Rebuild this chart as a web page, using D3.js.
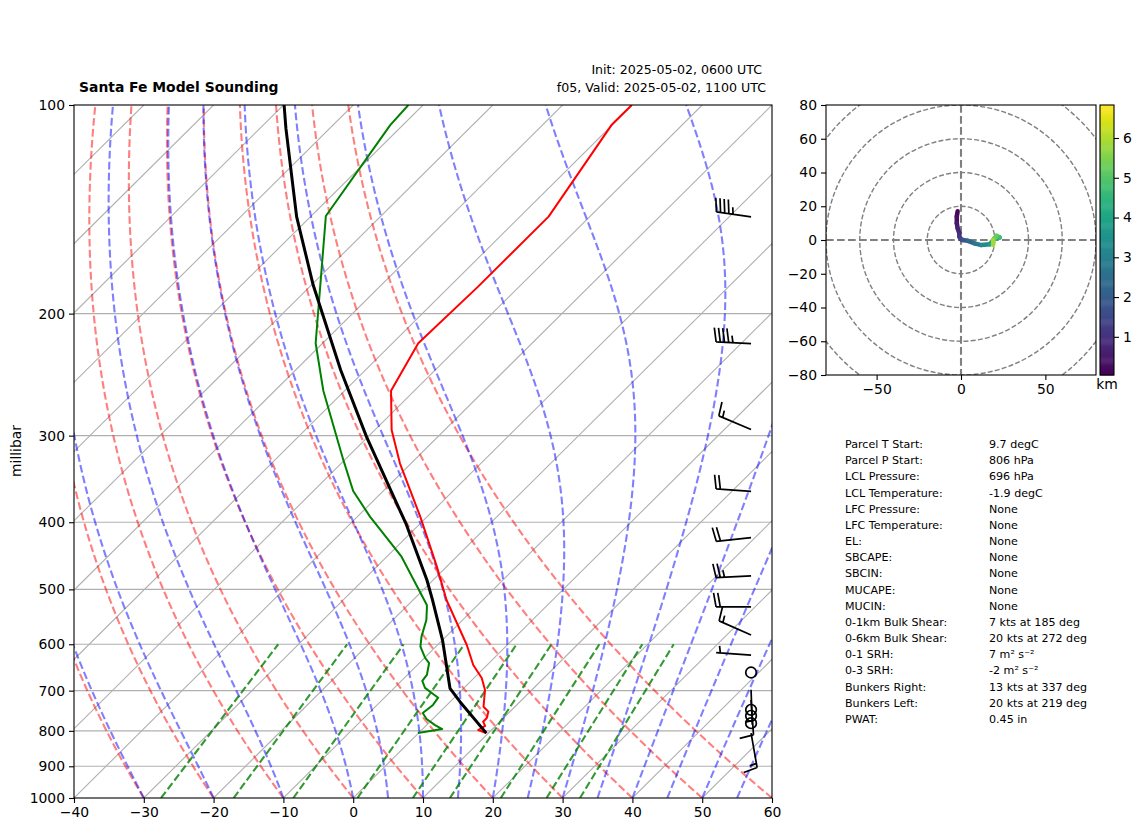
<!DOCTYPE html>
<html>
<head>
<meta charset="utf-8">
<script src="https://cdn.jsdelivr.net/npm/d3@7"></script>
<style>
    body { margin: 0; background: #fff; }
    text { font-family: "DejaVu Sans", sans-serif; fill: #000; }
</style>
</head>
<body>
<svg id="chart" width="1142" height="832"></svg>
<script>
// Sounding profiles (hPa, degC)
const tempPressure = [100, 106.9, 144.9, 183, 220.7, 258.4, 294.4, 328.9, 392.6, 463.6, 518, 601.5, 642.7, 671.2, 698.5, 738.4, 750.5, 766.7, 776, 787, 797.8, 806];
const tempValues = [-60.1, -60.1, -55.9, -55.9, -56.3, -53.35, -47.6, -41.6, -31.0, -21.4, -15.2, -5.8, -2.0, 1.1, 3.3, 5.5, 6.9, 7.6, 7.6, 8.5, 8.1, 9.7];

const dewPressure = [100, 106.9, 144.6, 220.7, 258.4, 325.2, 360.6, 392.6, 448.5, 526.6, 532, 553.6, 585, 604.9, 628, 638.6, 664.4, 677.7, 693.6, 705.4, 716.6, 734, 754, 769, 784.8, 795.2, 806];
const dewValues = [-92.1, -91.8, -87.9, -71.0, -63.05, -50.2, -44.3, -38.2, -27.9, -17.3, -16.85, -15.2, -13.5, -12.2, -9.9, -8.6, -7.2, -7.0, -5.6, -3.9, -2.3, -2.0, -2.3, -0.9, 1.2, 2.8, -0.1];

const parcelPressure = [100, 108, 144.9, 181.9, 241.2, 301.2, 371.5, 401.4, 484.6, 518, 591.6, 694.6, 726.2, 806];
const parcelValues = [-109.9, -106.3, -92.0, -79.75, -63.56, -50.2, -37.0, -32.1, -20.9, -17.2, -10.0, -1.96, 1.4, 9.7];

// Wind barbs (hPa, kts, degrees)
const barbPressure = [145, 221, 294, 361, 421, 478, 530, 582, 622, 659, 698, 722, 746, 761, 780, 806];
const barbSpeed = [45, 45, 15, 20, 20, 25, 20, 15, 5, 0, 5, 10, 0, 0, 0, 15];
const barbDirection = [278, 273, 293, 274, 264, 267, 270, 294, 274, 0, 178, 176, 0, 0, 0, 170];

// Hodograph (kts, kts, km)
const hodoU = [-2, -2.5, -2.5, -2, -1, -1, 0, 1, 4, 8, 12, 17, 20, 23, 21, 19, 19];
const hodoV = [17, 14, 10, 7, 4, 2, 0.5, 0, -0.5, -2, -3, -2.5, 1, 1.5, 2.5, 0, -3];
const hodoHeight = [0.04, 0.2, 0.4, 0.6, 0.8, 1, 1.3, 1.6, 2, 2.5, 3, 3.5, 4, 4.5, 5, 5.5, 6.2];

// Background lines: starting temperatures at 1000 hPa
const isothermTemps = d3.range(-130, 61, 10);
const isobars = [200, 300, 400, 500, 600, 700, 800, 900];
const dryStarts = d3.range(-40, 61, 10);
const moistStarts = [-40, -30, -20, -10, 0, 5, 10, 15, 20, 25, 30, 35, 40, 45, 50, 55, 60];
const mixingRatios = [0.0004, 0.001, 0.002, 0.004, 0.007, 0.01, 0.016, 0.024, 0.032];

const pressureTicks = [100, 200, 300, 400, 500, 600, 700, 800, 900, 1000];
const tempTicks = d3.range(-40, 61, 10);
const hodoXTicks = [-50, 0, 50];
const hodoYTicks = d3.range(-80, 81, 20);
const hodoRings = [20, 40, 60, 80, 100];
const colorbarTicks = [1, 2, 3, 4, 5, 6];

const statLabels = ["Parcel T Start:", "Parcel P Start:", "LCL Pressure:", "LCL Temperature:", "LFC Pressure:", "LFC Temperature:", "EL:", "SBCAPE:", "SBCIN:", "MUCAPE:", "MUCIN:", "0-1km Bulk Shear:", "0-6km Bulk Shear:", "0-1 SRH:", "0-3 SRH:", "Bunkers Right:", "Bunkers Left:", "PWAT:"];
const statValues = ["9.7 degC", "806 hPa", "696 hPa", "-1.9 degC", "None", "None", "None", "None", "None", "None", "None", "7 kts at 185 deg", "20 kts at 272 deg", "7 m² s⁻²", "-2 m² s⁻²", "13 kts at 337 deg", "20 kts at 219 deg", "0.45 in"];

const svg = d3.select("#chart");
const fontSize = 13.9;

const skew = { left: 74, right: 772, top: 105, bottom: 798 };
const x = d3.scaleLinear().domain([-40, 60]).range([skew.left, skew.right]);
const y = d3.scaleLog().domain([1000, 100]).range([skew.bottom, skew.top]);

// 45 degree skew in axes coordinates: one decade of pressure moves 100 degC
const skewX = (t, p) => x(t + 100 * Math.log10(1000 / p));

svg.append("clipPath").attr("id", "skewClip").append("rect")
    .attr("x", skew.left).attr("y", skew.top)
    .attr("width", skew.right - skew.left).attr("height", skew.bottom - skew.top);

const plot = svg.append("g").attr("clip-path", "url(#skewClip)");
const skewLine = d3.line().x(d => skewX(d[1], d[0])).y(d => y(d[0]));

// Gridlines
plot.selectAll(".isotherm").data(isothermTemps).enter().append("path")
    .attr("d", t => skewLine([[1000, t], [100, t]]))
    .attr("fill", "none").attr("stroke", "#b0b0b0").attr("stroke-width", 1.1);
plot.selectAll(".isobar").data(isobars).enter().append("line")
    .attr("x1", skew.left).attr("x2", skew.right)
    .attr("y1", d => y(d)).attr("y2", d => y(d))
    .attr("stroke", "#b0b0b0").attr("stroke-width", 1.1);

// Dry adiabats, moist adiabats, mixing ratio lines
const adiabatPressure = d3.range(0, 61).map(i => 1000 * Math.pow(10, -i / 60));

function dryAdiabat(t0) {
    return adiabatPressure.map(p => [p, (t0 + 273.15) * Math.pow(p / 1000, 0.286) - 273.15]);
}

function moistSlope(p, tk) {
    const tc = tk - 273.15;
    const es = 6.112 * Math.exp(17.67 * tc / (tc + 243.5));
    const rs = 0.622 * es / (p - es);
    const lv = 2.501e6;
    return (287 * tk + lv * rs) / (1005 + lv * lv * rs * 0.622 / (287 * tk * tk)) / p;
}

function moistAdiabat(t0) {
    let tk = t0 + 273.15;
    const out = [[1000, t0]];
    for (let i = 1; i < adiabatPressure.length; i++) {
        const p0 = adiabatPressure[i - 1];
        const h = adiabatPressure[i] - p0;
        const k1 = moistSlope(p0, tk);
        const k2 = moistSlope(p0 + h / 2, tk + h / 2 * k1);
        const k3 = moistSlope(p0 + h / 2, tk + h / 2 * k2);
        const k4 = moistSlope(p0 + h, tk + h * k3);
        tk += h / 6 * (k1 + 2 * k2 + 2 * k3 + k4);
        out.push([adiabatPressure[i], tk - 273.15]);
    }
    return out;
}

function mixingLine(w) {
    return [1000, 600].map(p => {
        const l = Math.log(w * p / (0.622 + w) / 6.112);
        return [p, 243.5 * l / (17.67 - l)];
    });
}

plot.selectAll(".dry").data(dryStarts).enter().append("path")
    .attr("d", d => skewLine(dryAdiabat(d)))
    .attr("fill", "none").attr("stroke", "red").attr("stroke-opacity", 0.5)
    .attr("stroke-width", 2.1).attr("stroke-dasharray", "7.7,3.3");
plot.selectAll(".moist").data(moistStarts).enter().append("path")
    .attr("d", d => skewLine(moistAdiabat(d)))
    .attr("fill", "none").attr("stroke", "blue").attr("stroke-opacity", 0.5)
    .attr("stroke-width", 2.1).attr("stroke-dasharray", "7.7,3.3");
plot.selectAll(".mixing").data(mixingRatios).enter().append("path")
    .attr("d", d => skewLine(mixingLine(d)))
    .attr("fill", "none").attr("stroke", "green").attr("stroke-opacity", 0.8)
    .attr("stroke-width", 2.1).attr("stroke-dasharray", "7.7,3.3");

// Profiles
const profiles = [
    { p: tempPressure, t: tempValues, color: "red", width: 2 },
    { p: dewPressure, t: dewValues, color: "green", width: 2 },
    { p: parcelPressure, t: parcelValues, color: "black", width: 3 }
];
plot.selectAll(".profile").data(profiles).enter().append("path")
    .attr("d", d => skewLine(d.p.map((p, i) => [p, d.t[i]])))
    .attr("fill", "none").attr("stroke", d => d.color).attr("stroke-width", d => d.width)
    .attr("stroke-linejoin", "round");

// Wind barbs, at 97% of the axes width
const barbX = skew.left + 0.97 * (skew.right - skew.left);
const barbLength = 35;

function barbPath(p, speed, dir) {
    const y0 = y(p);
    const rad = dir * Math.PI / 180;
    const hx = Math.sin(rad), hy = -Math.cos(rad);
    const rx = -hy, ry = hx;
    const tipX = barbX + hx * barbLength, tipY = y0 + hy * barbLength;
    let path = `M${barbX},${y0}L${tipX},${tipY}`;
    const rounded = Math.round(speed / 5) * 5;
    const full = Math.floor(rounded / 10);
    const half = rounded % 10 === 5;
    const feather = (s, height) => {
        const px = tipX - hx * s, py = tipY - hy * s;
        path += `M${px},${py}L${px + rx * height + hx * height * 0.18},${py + ry * height + hy * height * 0.18}`;
    };
    let s = 0;
    for (let i = 0; i < full; i++) {
        feather(s, 14);
        s += 4.2;
    }
    if (half) {
        if (full === 0) s += 4.2;
        feather(s, 7);
    }
    return path;
}

const barbs = barbPressure.map((p, i) => ({ p, speed: barbSpeed[i], dir: barbDirection[i] }));
plot.selectAll(".barb").data(barbs.filter(d => d.speed >= 2.5)).enter().append("path")
    .attr("d", d => barbPath(d.p, d.speed, d.dir))
    .attr("fill", "none").attr("stroke", "black").attr("stroke-width", 1.7);
plot.selectAll(".calm").data(barbs.filter(d => d.speed < 2.5)).enter().append("circle")
    .attr("cx", barbX).attr("cy", d => y(d.p)).attr("r", 5.3)
    .attr("fill", "none").attr("stroke", "black").attr("stroke-width", 1.7);

// Skew-T frame and axes
svg.append("rect")
    .attr("x", skew.left).attr("y", skew.top)
    .attr("width", skew.right - skew.left).attr("height", skew.bottom - skew.top)
    .attr("fill", "none").attr("stroke", "black").attr("stroke-width", 1.1);

function styleAxis(g) {
    g.select(".domain").remove();
    g.selectAll("text").style("font-size", fontSize + "px").style("font-family", '"DejaVu Sans", sans-serif');
    g.selectAll("line").attr("stroke", "black").attr("stroke-width", 1.1);
}

svg.append("g").attr("transform", `translate(0,${skew.bottom})`)
    .call(d3.axisBottom(x).tickValues(tempTicks).tickSize(5).tickPadding(4))
    .call(styleAxis);
svg.append("g").attr("transform", `translate(${skew.left},0)`)
    .call(d3.axisLeft(y).tickValues(pressureTicks).tickFormat(d3.format("d")).tickSize(5).tickPadding(4))
    .call(styleAxis);

svg.append("text").attr("transform", "translate(21,451) rotate(-90)")
    .attr("text-anchor", "middle").style("font-size", fontSize + "px").text("millibar");

// Titles
svg.append("text").attr("x", 79).attr("y", 92).style("font-size", fontSize + "px")
    .style("font-weight", "bold").text("Santa Fe Model Sounding");
svg.append("text").attr("x", 762).attr("y", 74).attr("text-anchor", "end")
    .style("font-size", "12.6px").text("Init: 2025-05-02, 0600 UTC");
svg.append("text").attr("x", 766).attr("y", 92).attr("text-anchor", "end")
    .style("font-size", "12.6px").text("f05, Valid: 2025-05-02, 1100 UTC");

// Hodograph
const hodo = { left: 826, right: 1096, top: 105, bottom: 375 };
const hx = d3.scaleLinear().domain([-80, 80]).range([hodo.left, hodo.right]);
const hy = d3.scaleLinear().domain([-80, 80]).range([hodo.bottom, hodo.top]);
const color = d3.scaleSequential(d3.interpolateViridis).domain([0.04, 6.83]);

svg.append("clipPath").attr("id", "hodoClip").append("rect")
    .attr("x", hodo.left).attr("y", hodo.top)
    .attr("width", hodo.right - hodo.left).attr("height", hodo.bottom - hodo.top);
const hodoPlot = svg.append("g").attr("clip-path", "url(#hodoClip)");

hodoPlot.selectAll(".ring").data(hodoRings).enter().append("circle")
    .attr("cx", hx(0)).attr("cy", hy(0)).attr("r", d => hx(d) - hx(0))
    .attr("fill", "none").attr("stroke", "grey").attr("stroke-width", 1.4)
    .attr("stroke-dasharray", "5,2.2");
hodoPlot.append("line").attr("x1", hx(-80)).attr("x2", hx(80)).attr("y1", hy(0)).attr("y2", hy(0))
    .attr("stroke", "grey").attr("stroke-width", 2.1).attr("stroke-dasharray", "7.7,3.3");
hodoPlot.append("line").attr("x1", hx(0)).attr("x2", hx(0)).attr("y1", hy(80)).attr("y2", hy(-80))
    .attr("stroke", "grey").attr("stroke-width", 2.1).attr("stroke-dasharray", "7.7,3.3");
hodoPlot.selectAll(".hodoSeg").data(d3.range(hodoU.length - 1)).enter().append("line")
    .attr("x1", i => hx(hodoU[i])).attr("y1", i => hy(hodoV[i]))
    .attr("x2", i => hx(hodoU[i + 1])).attr("y2", i => hy(hodoV[i + 1]))
    .attr("stroke", i => color((hodoHeight[i] + hodoHeight[i + 1]) / 2))
    .attr("stroke-width", 4.5).attr("stroke-linecap", "round");

svg.append("rect")
    .attr("x", hodo.left).attr("y", hodo.top)
    .attr("width", hodo.right - hodo.left).attr("height", hodo.bottom - hodo.top)
    .attr("fill", "none").attr("stroke", "black").attr("stroke-width", 1.1);
svg.append("g").attr("transform", `translate(0,${hodo.bottom})`)
    .call(d3.axisBottom(hx).tickValues(hodoXTicks).tickSize(5).tickPadding(4))
    .call(styleAxis);
svg.append("g").attr("transform", `translate(${hodo.left},0)`)
    .call(d3.axisLeft(hy).tickValues(hodoYTicks).tickSize(5).tickPadding(4))
    .call(styleAxis);

// Colorbar
const cbar = { left: 1100, right: 1114 };
const cy = d3.scaleLinear().domain([0.04, 6.83]).range([hodo.bottom, hodo.top]);
const cbarSteps = d3.range(0, 256);
svg.selectAll(".cbarCell").data(cbarSteps).enter().append("rect")
    .attr("x", cbar.left).attr("width", cbar.right - cbar.left)
    .attr("y", d => hodo.bottom - (d + 1) * (hodo.bottom - hodo.top) / 256)
    .attr("height", (hodo.bottom - hodo.top) / 256 + 0.5)
    .attr("fill", d => d3.interpolateViridis(d / 255));
svg.append("rect")
    .attr("x", cbar.left).attr("y", hodo.top)
    .attr("width", cbar.right - cbar.left).attr("height", hodo.bottom - hodo.top)
    .attr("fill", "none").attr("stroke", "black").attr("stroke-width", 1.1);
svg.append("g").attr("transform", `translate(${cbar.right},0)`)
    .call(d3.axisRight(cy).tickValues(colorbarTicks).tickFormat(d3.format("d")).tickSize(5).tickPadding(4))
    .call(styleAxis);
svg.append("text").attr("x", 1107).attr("y", 389).attr("text-anchor", "middle")
    .style("font-size", fontSize + "px").text("km");

// Stats table
const rowY = d3.scaleLinear().domain([0, statLabels.length - 1]).range([448, 723]);
svg.selectAll(".statLabel").data(statLabels).enter().append("text")
    .attr("x", 845).attr("y", (d, i) => rowY(i)).style("font-size", "11.1px").text(d => d);
svg.selectAll(".statValue").data(statValues).enter().append("text")
    .attr("x", 989).attr("y", (d, i) => rowY(i)).style("font-size", "11.1px").text(d => d);
</script>
</body>
</html>
